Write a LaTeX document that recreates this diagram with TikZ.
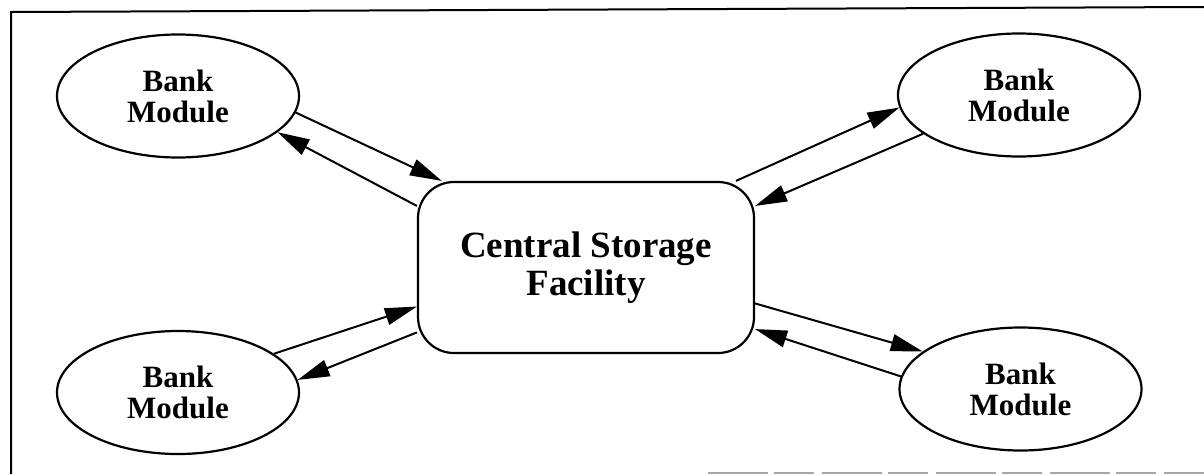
\documentclass[tikz,border=0pt]{standalone}
\usepackage{fontspec}
\setmainfont{Liberation Serif}
\usetikzlibrary{shapes.geometric,arrows.meta}

\begin{document}
\begin{tikzpicture}[x=1pt,y=-1pt,
  bank/.style={ellipse, draw, line width=2.2pt, minimum width=242pt,
    minimum height=123pt, inner sep=0pt, align=center,
    font=\fontsize{31}{31}\selectfont\bfseries},
  store/.style={rectangle, rounded corners=36pt, draw, line width=2.2pt,
    minimum width=336pt, minimum height=171pt, inner sep=0pt, align=center,
    font=\fontsize{37}{38}\selectfont\bfseries},
  link/.style={line width=2pt, -{Triangle[length=32pt,width=17pt]}},
  frame/.style={line width=2pt}]

\useasboundingbox (0,0) rectangle (1204,474);

% outer frame
\draw[frame] (11,474) -- (11,12) -- (1204,7);
\draw[gray!70, line width=1.5pt, dash pattern=on 60pt off 6pt on 40pt off 8pt] (708,473) -- (1204,473);

% modules and the central store
\node[bank] (tl) at (178,96) {Bank\\Module};
\node[bank] (bl) at (178,392.5) {Bank\\Module};
\node[bank] (tr) at (1019,95) {Bank\\Module};
\node[bank] (br) at (1020.5,389) {Bank\\Module};
\node[store] (cs) at (586,267.5) {Central Storage\\Facility};

% two-way links
\draw[link] (tl.-8)      -- (cs.149.1);
\draw[link] (cs.160.2)   -- (tl.-20.9);
\draw[link] (bl.22.7)    -- (cs.-167.1);
\draw[link] (cs.-159.9)  -- (bl.6.9);
\draw[link] (cs.30.7)    -- (tr.-174.2);
\draw[link] (tr.-158.6)  -- (cs.20.5);
\draw[link] (cs.-12.3)   -- (br.159.2);
\draw[link] (br.174.3)   -- (cs.-20.1);
\end{tikzpicture}
\end{document}
